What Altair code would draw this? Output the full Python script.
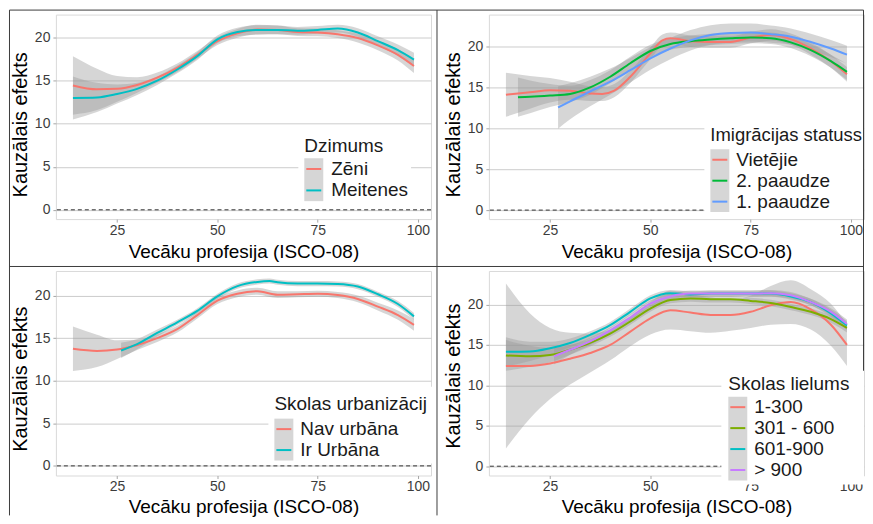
import altair as alt
import pandas as pd

FONT = "Liberation Sans"
X_TITLE = "Vecāku profesija (ISCO-08)"
Y_TITLE = "Kauzālais efekts"
X_TICKS = [25, 50, 75, 100]
Y_TICKS = [0, 5, 10, 15, 20]
X_DOMAIN = [9.75, 103.25]

# ---------------- Panel 1: Dzimums ----------------
p1_legend_title = "Dzimums"
p1_groups = ["Zēni", "Meitenes"]
p1_colors = ["#F8766D", "#00BFC4"]
p1_x = [14, 20, 25, 30, 35, 40, 45, 50, 55, 60, 65, 70, 75, 80, 85, 90, 95, 99]
p1_zeni = [14.45, 14.0, 14.05, 14.5, 15.35, 16.5, 18.0, 19.6, 20.5, 20.95, 20.9, 20.65, 20.6, 20.4, 19.95, 19.1, 18.0, 16.7]
p1_zeni_se = [3.4, 2.4, 1.5, 0.9, 0.6, 0.5, 0.45, 0.45, 0.5, 0.55, 0.5, 0.45, 0.45, 0.45, 0.5, 0.55, 0.65, 0.8]
p1_meit = [13.0, 13.05, 13.45, 14.05, 15.0, 16.3, 17.85, 19.8, 20.65, 20.9, 20.9, 20.8, 20.9, 21.05, 20.6, 19.6, 18.55, 17.45]
p1_meit_se = [2.5, 1.7, 1.1, 0.7, 0.5, 0.45, 0.45, 0.45, 0.5, 0.55, 0.5, 0.45, 0.45, 0.45, 0.5, 0.55, 0.65, 0.8]
p1_ydomain = [-1.08, 22.68]

# ---------------- Panel 2: Imigrācijas statuss ----------------
p2_legend_title = "Imigrācijas statuss"
p2_groups = ["Vietējie", "2. paaudze", "1. paaudze"]
p2_colors = ["#F8766D", "#00BA38", "#619CFF"]
p2_x_viet = [14, 20, 25, 30, 35, 38, 41, 45, 50, 53, 55, 60, 65, 70, 75, 80, 85, 90, 95, 99]
p2_viet = [14.1, 14.4, 14.65, 14.6, 14.25, 14.2, 14.6, 16.3, 19.15, 20.75, 21.0, 20.65, 20.55, 20.55, 21.1, 21.4, 20.9, 19.75, 18.2, 16.6]
p2_viet_se = [2.7, 2.0, 1.5, 1.1, 0.9, 0.85, 0.8, 0.75, 0.7, 0.7, 0.7, 0.7, 0.7, 0.7, 0.7, 0.7, 0.7, 0.75, 0.8, 0.9]
p2_x_g2 = [17, 20, 25, 30, 35, 40, 45, 50, 55, 60, 65, 70, 75, 80, 85, 90, 95, 99]
p2_g2 = [13.8, 13.85, 14.0, 14.2, 15.0, 16.3, 17.95, 19.45, 20.3, 20.65, 20.85, 21.0, 21.1, 21.0, 20.5, 19.55, 18.2, 16.9]
p2_g2_se = [2.4, 2.0, 1.4, 1.0, 0.9, 0.8, 0.8, 0.75, 0.7, 0.7, 0.7, 0.7, 0.7, 0.7, 0.7, 0.75, 0.8, 1.0]
p2_x_g1 = [27, 30, 35, 40, 45, 50, 55, 60, 65, 70, 75, 80, 85, 90, 95, 99]
p2_g1 = [12.55, 13.3, 14.5, 15.7, 17.1, 18.55, 19.75, 20.75, 21.4, 21.65, 21.7, 21.5, 21.2, 20.55, 19.75, 19.0]
p2_g1_se = [2.6, 2.2, 1.8, 1.6, 1.5, 1.4, 1.3, 1.25, 1.2, 1.15, 1.1, 1.05, 1.0, 1.0, 1.05, 1.1]
p2_ydomain = [-1.1, 23.9]

# ---------------- Panel 3: Skolas urbanizācija ----------------
p3_legend_title = "Skolas urbanizācija"
p3_groups = ["Nav urbāna", "Ir Urbāna"]
p3_colors = ["#F8766D", "#00BFC4"]
p3_x_nav = [14, 20, 25, 30, 35, 40, 45, 50, 55, 60, 65, 70, 75, 80, 85, 90, 95, 99]
p3_nav = [13.75, 13.5, 13.65, 14.2, 15.0, 16.05, 17.7, 19.4, 20.2, 20.5, 20.1, 20.15, 20.2, 20.05, 19.6, 18.7, 17.7, 16.55]
p3_nav_se = [2.6, 1.9, 1.1, 0.6, 0.45, 0.4, 0.4, 0.4, 0.4, 0.4, 0.4, 0.35, 0.35, 0.35, 0.4, 0.45, 0.55, 0.7]
p3_x_ir = [26, 30, 35, 40, 45, 50, 55, 60, 63, 65, 70, 75, 80, 85, 90, 95, 99]
p3_ir = [13.55, 14.3, 15.6, 16.85, 18.2, 19.9, 21.1, 21.6, 21.7, 21.55, 21.4, 21.4, 21.35, 21.05, 20.15, 19.0, 17.55]
p3_ir_se = [0.9, 0.6, 0.4, 0.3, 0.3, 0.3, 0.3, 0.3, 0.3, 0.3, 0.3, 0.3, 0.3, 0.3, 0.3, 0.35, 0.4]
p3_ydomain = [-1.13, 22.88]

# ---------------- Panel 4: Skolas lielums ----------------
p4_legend_title = "Skolas lielums"
p4_groups = ["1-300", "301 - 600", "601-900", "> 900"]
p4_colors = ["#F8766D", "#7CAE00", "#00BFC4", "#C77CFF"]
p4_x = [14, 20, 25, 30, 35, 40, 45, 50, 55, 60, 65, 70, 75, 80, 85, 90, 95, 99]
p4_s1 = [12.4, 12.4, 12.7, 13.3, 14.0, 15.0, 16.65, 18.3, 19.3, 19.0, 18.7, 18.7, 19.1, 19.9, 20.3, 19.4, 17.5, 15.0]
p4_s1_se = [10.2, 6.5, 4.4, 3.2, 2.4, 1.9, 1.8, 2.0, 2.4, 2.3, 2.2, 1.95, 2.0, 2.4, 2.7, 2.5, 2.6, 2.6]
p4_s2 = [13.7, 13.6, 13.75, 14.4, 15.25, 16.4, 17.9, 19.5, 20.55, 20.75, 20.65, 20.65, 20.45, 20.2, 19.7, 19.1, 18.2, 17.1]
p4_s2_se = [1.9, 1.3, 0.9, 0.6, 0.45, 0.4, 0.4, 0.4, 0.4, 0.4, 0.4, 0.4, 0.4, 0.4, 0.4, 0.4, 0.45, 0.55]
p4_s3 = [14.15, 14.2, 14.6, 15.25, 16.25, 17.45, 19.1, 20.75, 21.4, 21.25, 21.35, 21.35, 21.35, 21.35, 21.0, 20.3, 18.9, 17.4]
p4_s3_se = [1.8, 1.2, 0.8, 0.55, 0.45, 0.4, 0.4, 0.4, 0.4, 0.4, 0.4, 0.4, 0.4, 0.4, 0.4, 0.4, 0.45, 0.55]
p4_x_s4 = [26, 30, 35, 40, 45, 50, 55, 60, 65, 70, 75, 80, 85, 90, 95, 99]
p4_s4 = [13.6, 14.4, 15.45, 16.8, 18.4, 20.1, 21.0, 21.35, 21.35, 21.35, 21.35, 21.4, 21.15, 20.3, 19.1, 17.6]
p4_s4_se = [1.0, 0.6, 0.45, 0.4, 0.4, 0.4, 0.4, 0.4, 0.4, 0.4, 0.4, 0.4, 0.4, 0.4, 0.45, 0.55]
p4_ydomain = [-1.15, 24.15]

PANEL_W = 376
PANEL_H = 205


def series(xs, ys, ses, name):
    return pd.DataFrame({
        "x": xs,
        "y": ys,
        "lo": [v - s for v, s in zip(ys, ses)],
        "hi": [v + s for v, s in zip(ys, ses)],
        "g": name,
    })


ONE = alt.Data(values=[{"a": 1}])


def legend_layers(title, groups, colors, box, title_pos, key_x, key_top, label_x,
                  row_h=21, title_limit=None, title_size=19):
    layers = [
        alt.Chart(ONE).mark_rect(color="white").encode(
            x=alt.value(box[0]), x2=alt.value(box[1]),
            y=alt.value(box[2]), y2=alt.value(box[3])),
        alt.Chart(ONE).mark_rect(color="#d6d6d6").encode(
            x=alt.value(key_x), x2=alt.value(key_x + 19),
            y=alt.value(key_top), y2=alt.value(key_top + row_h * len(groups))),
    ]
    tkw = dict(text=title, align="left", baseline="alphabetic", font=FONT,
               fontSize=title_size, color="#1a1a1a")
    if title_limit:
        tkw.update(limit=title_limit, ellipsis="\u200b")
    layers.append(alt.Chart(ONE).mark_text(**tkw).encode(
        x=alt.value(title_pos[0]), y=alt.value(title_pos[1])))
    for i, (g, c) in enumerate(zip(groups, colors)):
        cy = key_top + row_h * (i + 0.5)
        layers.append(alt.Chart(ONE).mark_rule(color=c, strokeWidth=2).encode(
            x=alt.value(key_x + 2), x2=alt.value(key_x + 17), y=alt.value(cy)))
        layers.append(alt.Chart(ONE).mark_text(
            text=g, align="left", baseline="middle", font=FONT, fontSize=19,
            color="#1a1a1a").encode(x=alt.value(label_x), y=alt.value(cy)))
    return layers


def panel(frames, groups, colors, ydomain, title_y, legend, extra=None, x_title_pad=5):
    df = pd.concat(frames, ignore_index=True)
    xscale = alt.Scale(domain=X_DOMAIN, nice=False, zero=False)
    yscale = alt.Scale(domain=ydomain, nice=False, zero=False)
    xaxis = alt.Axis(values=X_TICKS, title=X_TITLE, grid=False, labelPadding=1.5,
                     titlePadding=x_title_pad, tickSize=3)
    yaxis = alt.Axis(values=Y_TICKS, title=Y_TITLE, grid=True, labelPadding=3,
                     titlePadding=3.5, tickSize=3, titleY=title_y, titleFontSize=20)
    base = alt.Chart(df)
    bands = base.mark_area(color="#999999", opacity=0.4, interpolate="monotone").encode(
        x=alt.X("x:Q", scale=xscale, axis=xaxis),
        y=alt.Y("lo:Q", scale=yscale, axis=yaxis),
        y2="hi:Q",
        detail="g:N",
    )
    lines = base.mark_line(strokeWidth=2, interpolate="monotone").encode(
        x=alt.X("x:Q", scale=xscale, axis=xaxis),
        y=alt.Y("y:Q", scale=yscale, axis=yaxis),
        color=alt.Color("g:N", scale=alt.Scale(domain=groups, range=colors), legend=None),
    )
    hline = alt.Chart(ONE).mark_rule(color="#333333", strokeWidth=1, strokeDash=[4, 3]).encode(
        y=alt.datum(0))
    layers = [bands, lines, hline] + legend + (extra or [])
    return alt.layer(*layers).properties(width=PANEL_W, height=PANEL_H)


def frame_layers():
    # decorative frame lines around the four quadrants (relative to panel 4)
    c = "#3d3d3d"
    top, bottom, left, mid_x, right, mid_y = -261.5, 245, -480.5, -52, 375.5, -4.5
    return [
        alt.Chart(ONE).mark_rule(color=c, strokeWidth=1).encode(
            x=alt.value(left), y=alt.value(top), y2=alt.value(bottom)),
        alt.Chart(ONE).mark_rule(color=c, strokeWidth=1).encode(
            x=alt.value(mid_x), y=alt.value(top), y2=alt.value(bottom)),
        alt.Chart(ONE).mark_rule(color=c, strokeWidth=1).encode(
            x=alt.value(right), y=alt.value(top), y2=alt.value(100)),
        alt.Chart(ONE).mark_rule(color=c, strokeWidth=1).encode(
            x=alt.value(left), x2=alt.value(right), y=alt.value(top)),
        alt.Chart(ONE).mark_rule(color=c, strokeWidth=1).encode(
            x=alt.value(left), x2=alt.value(right), y=alt.value(mid_y)),
    ]


p1 = panel(
    [series(p1_x, p1_zeni, p1_zeni_se, p1_groups[0]),
     series(p1_x, p1_meit, p1_meit_se, p1_groups[1])],
    p1_groups, p1_colors, p1_ydomain, 110,
    legend_layers(p1_legend_title, p1_groups, p1_colors,
                  box=(243, 356, 122, 189), title_pos=(249, 138),
                  key_x=249, key_top=144, label_x=276, row_h=21.5),
)

p2 = panel(
    [series(p2_x_viet, p2_viet, p2_viet_se, p2_groups[0]),
     series(p2_x_g2, p2_g2, p2_g2_se, p2_groups[1]),
     series(p2_x_g1, p2_g1, p2_g1_se, p2_groups[2])],
    p2_groups, p2_colors, p2_ydomain, 110,
    legend_layers(p2_legend_title, p2_groups, p2_colors,
                  box=(216, 376, 104, 200), title_pos=(222, 127),
                  key_x=222, key_top=135, label_x=248, title_limit=153,
                  title_size=18.5),
)

p3 = panel(
    [series(p3_x_nav, p3_nav, p3_nav_se, p3_groups[0]),
     series(p3_x_ir, p3_ir, p3_ir_se, p3_groups[1])],
    p3_groups, p3_colors, p3_ydomain, 108,
    legend_layers(p3_legend_title, p3_groups, p3_colors,
                  box=(213, 381.5, 116, 193), title_pos=(219, 139),
                  key_x=219, key_top=148, label_x=245, title_limit=163),
    x_title_pad=3.5,
)

p4 = panel(
    [series(p4_x, p4_s1, p4_s1_se, p4_groups[0]),
     series(p4_x, p4_s2, p4_s2_se, p4_groups[1]),
     series(p4_x, p4_s3, p4_s3_se, p4_groups[2]),
     series(p4_x_s4, p4_s4, p4_s4_se, p4_groups[3])],
    p4_groups, p4_colors, p4_ydomain, 105,
    legend_layers(p4_legend_title, p4_groups, p4_colors,
                  box=(233, 376, 103, 214), title_pos=(240, 119),
                  key_x=240, key_top=126, label_x=266),
    extra=frame_layers(),
    x_title_pad=3.5,
)

chart = alt.concat(
    p1, p2, p3, p4, columns=2, spacing={"row": 52, "column": 58}, bounds="flush"
).resolve_scale(
    x="independent", y="independent", color="independent"
).properties(
    padding=0, background="white"
).configure_view(
    stroke="#d9d9d9", strokeWidth=1
).configure_axis(
    labelFont=FONT, titleFont=FONT, labelFontSize=14, titleFontSize=19,
    labelColor="#3c3c3c", titleColor="#000000", titleFontWeight="normal",
    tickColor="#a6a6a6", domain=False, gridColor="#cccccc", gridWidth=1,
)

chart.save("out.html", embed_options={"renderer": "svg", "actions": False})
